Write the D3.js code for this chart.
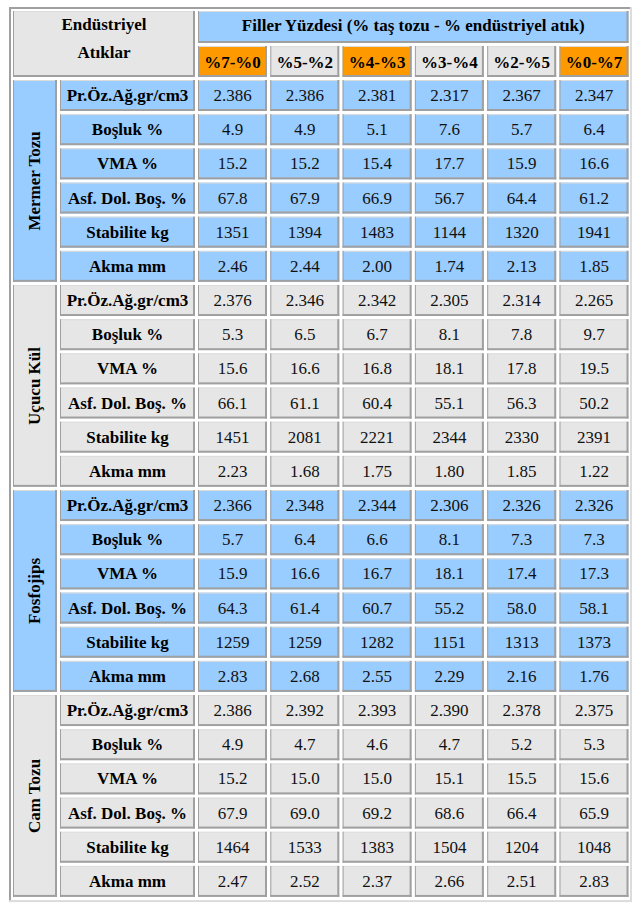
<!DOCTYPE html>
<html><head><meta charset="utf-8">
<script src="https://cdn.jsdelivr.net/npm/d3@7"></script>
<style>html,body{margin:0;padding:0;background:#fff} svg text{font-family:"Liberation Serif","Times New Roman",Times,"DejaVu Serif",serif;}</style>
</head><body>
<script>
// ---- data ----
const columns = ["%7-%0","%5-%2","%4-%3","%3-%4","%2-%5","%0-%7"];
const highlightedColumns = ["%7-%0","%4-%3","%0-%7"];
const groups = ["Mermer Tozu","Uçucu Kül","Fosfojips","Cam Tozu"];
const properties = ["Pr.Öz.Ağ.gr/cm3","Boşluk %","VMA %","Asf. Dol. Boş. %","Stabilite kg","Akma mm"];
const decimals = [3,1,1,1,0,2];
const mermerTozu = [
  [2.386,2.386,2.381,2.317,2.367,2.347],
  [4.9,4.9,5.1,7.6,5.7,6.4],
  [15.2,15.2,15.4,17.7,15.9,16.6],
  [67.8,67.9,66.9,56.7,64.4,61.2],
  [1351,1394,1483,1144,1320,1941],
  [2.46,2.44,2.00,1.74,2.13,1.85]
];
const ucucuKul = [
  [2.376,2.346,2.342,2.305,2.314,2.265],
  [5.3,6.5,6.7,8.1,7.8,9.7],
  [15.6,16.6,16.8,18.1,17.8,19.5],
  [66.1,61.1,60.4,55.1,56.3,50.2],
  [1451,2081,2221,2344,2330,2391],
  [2.23,1.68,1.75,1.80,1.85,1.22]
];
const fosfojips = [
  [2.366,2.348,2.344,2.306,2.326,2.326],
  [5.7,6.4,6.6,8.1,7.3,7.3],
  [15.9,16.6,16.7,18.1,17.4,17.3],
  [64.3,61.4,60.7,55.2,58.0,58.1],
  [1259,1259,1282,1151,1313,1373],
  [2.83,2.68,2.55,2.29,2.16,1.76]
];
const camTozu = [
  [2.386,2.392,2.393,2.390,2.378,2.375],
  [4.9,4.7,4.6,4.7,5.2,5.3],
  [15.2,15.0,15.0,15.1,15.5,15.6],
  [67.9,69.0,69.2,68.6,66.4,65.9],
  [1464,1533,1383,1504,1204,1048],
  [2.47,2.52,2.37,2.66,2.51,2.83]
];
const groupValues = [mermerTozu, ucucuKul, fosfojips, camTozu];
const headerLeft = ["Endüstriyel","Atıklar"];
const headerTop = "Filler Yüzdesi (% taş tozu - % endüstriyel atık)";

// ---- styles ----
const BLUE = "#99ccff", GRAY = "#e6e6e6", ORANGE = "#ff9900";
const DARK = "#a0a0a0", LIGHT = "#dcdcdc";

const W = 641, H = 912;
const svg = d3.select("body").append("svg").attr("width", W).attr("height", H)
  .style("display","block");

const nRows = groups.length * properties.length;
const x = d3.scaleLinear().domain([0, columns.length]).range([198, 198 + columns.length * 72.3]);
const colW = 69;
const y = d3.scaleLinear().domain([0, nRows]).range([80, 80 + nRows * 34.17]);
const rowH = 31;

function cell(x0, y0, w, h, fill) {
  const g = svg.append("g");
  g.append("rect").attr("x", x0).attr("y", y0).attr("width", w).attr("height", h).attr("fill", fill);
  g.append("rect").attr("x", x0).attr("y", y0).attr("width", w).attr("height", 1).attr("fill", LIGHT);
  g.append("rect").attr("x", x0).attr("y", y0).attr("width", 1).attr("height", h).attr("fill", DARK);
  g.append("rect").attr("x", x0 + w - 2).attr("y", y0).attr("width", 2).attr("height", h).attr("fill", DARK);
  g.append("rect").attr("x", x0).attr("y", y0 + h - 2).attr("width", w).attr("height", 2).attr("fill", DARK);
  return g;
}
function txt(xc, yc, s, bold, size) {
  return svg.append("text").attr("x", xc).attr("y", yc).attr("text-anchor", "middle")
    .attr("dominant-baseline", "central")
    .attr("font-size", size || 17)
    .attr("font-weight", bold ? "bold" : "normal").attr("fill", bold ? "#000" : "#111")
    .text(s);
}

// outer table border
const tblL = 9, tblT = 7, tblR = 632, tblB = y(nRows) + 2;
svg.append("rect").attr("x", tblL).attr("y", tblT).attr("width", tblR - tblL).attr("height", 2).attr("fill", DARK);
svg.append("rect").attr("x", tblL).attr("y", tblT).attr("width", 2).attr("height", tblB - tblT).attr("fill", DARK);
svg.append("rect").attr("x", tblR - 2).attr("y", tblT).attr("width", 2).attr("height", tblB - tblT).attr("fill", LIGHT);
svg.append("rect").attr("x", tblL).attr("y", tblB - 2).attr("width", tblR - tblL).attr("height", 2).attr("fill", LIGHT);

// header
cell(13, 11, 182, 66, GRAY);
txt(104, 24, headerLeft[0], true);
txt(104, 52, headerLeft[1], true);
cell(x(0), 11, x(columns.length) - x(0) - 72.3 + colW, 32, BLUE);
txt((x(0) + x(columns.length) - 72.3 + colW) / 2, 25, headerTop, true);
columns.forEach((c, i) => {
  cell(x(i), 46, colW, 31, highlightedColumns.includes(c) ? ORANGE : GRAY);
  txt(x(i) + colW / 2, 62, c, true);
});

// body
groups.forEach((gName, gi) => {
  const fill = gi % 2 === 0 ? BLUE : GRAY;
  const r0 = gi * properties.length;
  const gTop = y(r0), gBot = y(r0 + properties.length) - 3.17;
  cell(13, gTop, 44, gBot - gTop, fill);
  const cx = 34, cy = (gTop + gBot) / 2;
  svg.append("text").attr("transform", `translate(${cx},${cy}) rotate(-90)`)
    .attr("text-anchor", "middle").attr("dominant-baseline", "central")
    .attr("font-size", 17).attr("font-weight", "bold")
    .attr("fill", "#000").text(gName);
  properties.forEach((p, pi) => {
    const r = r0 + pi;
    cell(60, y(r), 135, rowH, fill);
    txt(127.5, y(r) + rowH / 2, p, true);
    groupValues[gi][pi].forEach((v, ci) => {
      cell(x(ci), y(r), colW, rowH, fill);
      txt(x(ci) + colW / 2, y(r) + rowH / 2, v.toFixed(decimals[pi]), false);
    });
  });
});
</script>
</body></html>
